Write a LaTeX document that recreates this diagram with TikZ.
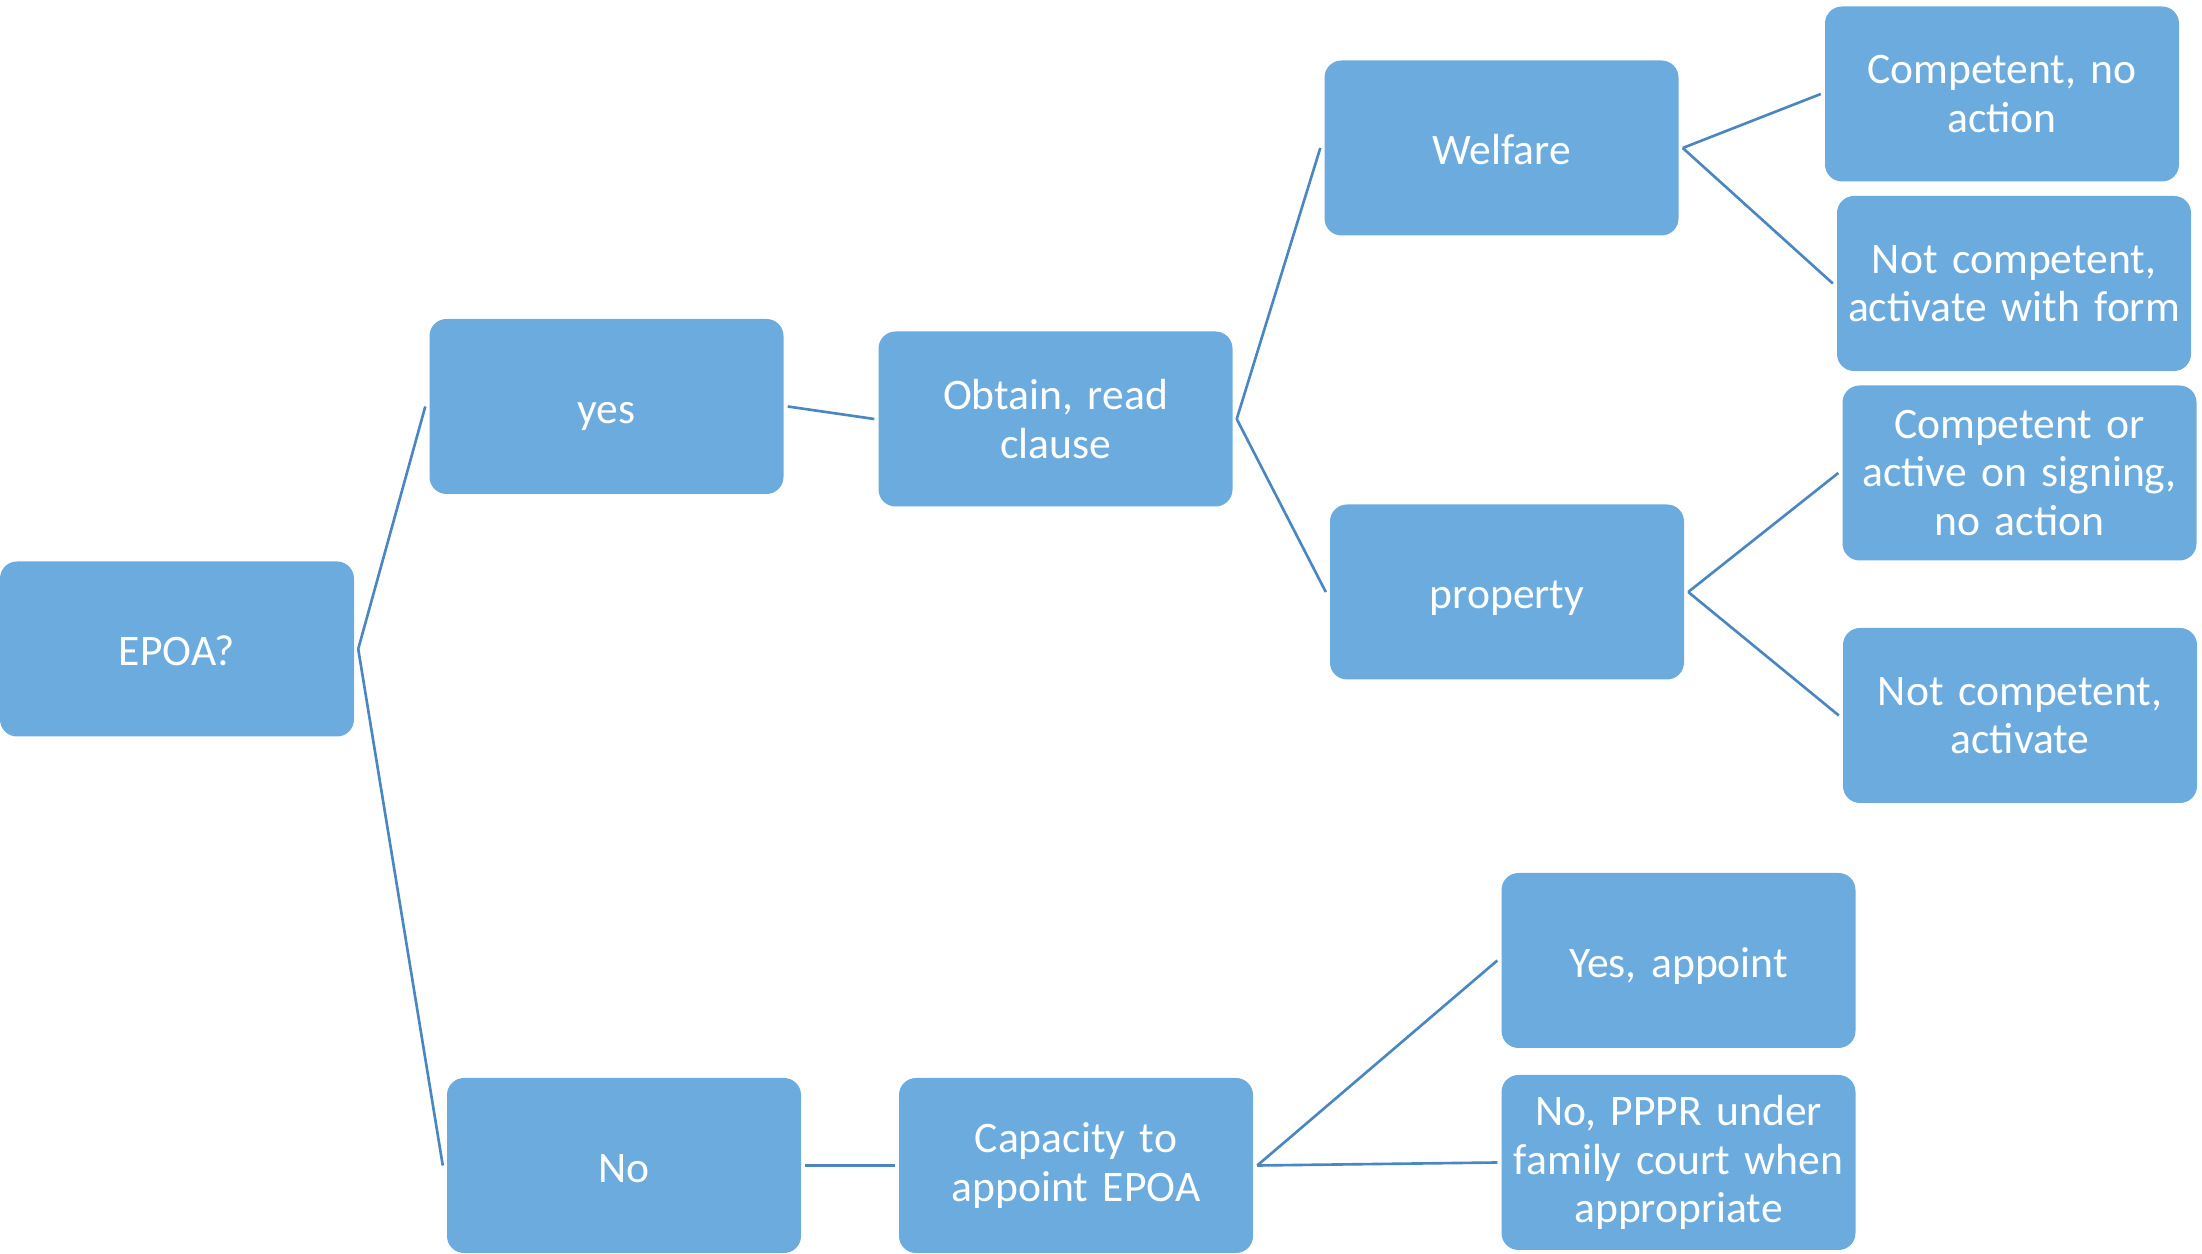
\documentclass[tikz,border=0pt]{standalone}
\usepackage{fontspec}
\setmainfont{Carlito}
\definecolor{boxblue}{HTML}{6CABDD}
\definecolor{lineblue}{HTML}{4A87C2}
\tikzset{
  stepbox/.style={rectangle, rounded corners=0.17cm, fill=boxblue, text=white,
    minimum width=3.54cm, minimum height=1.75cm, text width=3.4cm, align=center,
    inner sep=0pt, outer sep=1.2pt, font=\fontsize{12.4}{13.7}\selectfont},
  oneline/.style={text height=10pt, text depth=0.4pt},
  branch/.style={draw=lineblue, line width=0.75pt}
}
\begin{document}
\begin{tikzpicture}
        \useasboundingbox (0,0) rectangle (22.02,-12.54);
        % root and first level
        \node[stepbox, oneline] (epoa) at (1.77,-6.49) {EPOA?};
        \node[stepbox, oneline] (yes) at (6.065,-4.065) {yes};
        \node[stepbox, oneline] (no) at (6.24,-11.655) {No};
        \node[stepbox] (obtain) at (10.555,-4.19) {Obtain, read\\clause};
        \node[stepbox] (capacity) at (10.76,-11.655) {Capacity to\\appoint EPOA};
        % kinds of EPOA
        \node[stepbox, oneline] (welfare) at (15.015,-1.48) {Welfare};
        \node[stepbox, oneline] (property) at (15.07,-5.92) {property};
        % outcomes
        \node[stepbox] (compa) at (20.02,-0.94) {Competent, no\\action};
        \node[stepbox] (notcompa) at (20.14,-2.835) {Not competent,\\activate with form};
        \node[stepbox] (compb) at (20.195,-4.73) {Competent or\\active on signing,\\no action};
        \node[stepbox] (notcompb) at (20.2,-7.155) {Not competent,\\activate};
        \node[stepbox, oneline] (appoint) at (16.785,-9.605) {Yes, appoint};
        \node[stepbox] (pppr) at (16.785,-11.625) {No, PPPR under\\family court when\\appropriate};

        \draw[branch] (epoa.east) -- (yes.west);
        \draw[branch] (epoa.east) -- (no.west);
        \draw[branch] (yes.east) -- (obtain.west);
        \draw[branch] (no.east) -- (capacity.west);
        \draw[branch] (obtain.east) -- (welfare.west);
        \draw[branch] (obtain.east) -- (property.west);
        \draw[branch] (welfare.east) -- (compa.west);
        \draw[branch] (welfare.east) -- (notcompa.west);
        \draw[branch] (property.east) -- (compb.west);
        \draw[branch] (property.east) -- (notcompb.west);
        \draw[branch] (capacity.east) -- (appoint.west);
        \draw[branch] (capacity.east) -- (pppr.west);
\end{tikzpicture}
\end{document}
